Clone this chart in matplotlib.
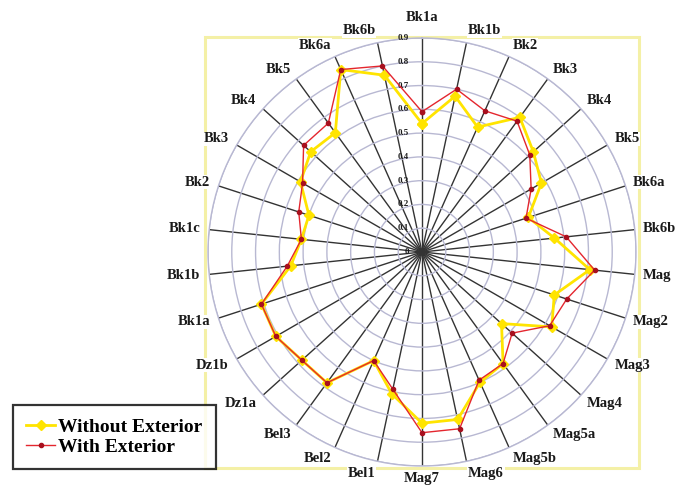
import numpy as np
import matplotlib.pyplot as plt
from matplotlib.patches import Rectangle
from matplotlib.lines import Line2D

# ----------- DATA -----------
categories = ["Bk1a", "Bk1b", "Bk2", "Bk3", "Bk4", "Bk5", "Bk6a", "Bk6b",
              "Mag", "Mag2", "Mag3", "Mag4", "Mag5a", "Mag5b", "Mag6", "Mag7",
              "Bel1", "Bel2", "Bel3", "Dz1a", "Dz1b",
              "Bk1a", "Bk1b", "Bk1c", "Bk2", "Bk3", "Bk4", "Bk5", "Bk6a", "Bk6b"]

without_exterior = [0.54, 0.67, 0.575, 0.70, 0.63, 0.58, 0.47, 0.56,
                    0.71, 0.585, 0.63, 0.45, 0.58, 0.60, 0.72, 0.72,
                    0.61, 0.50, 0.68, 0.68, 0.71,
                    0.71, 0.555, 0.51, 0.50, 0.59, 0.63, 0.62, 0.84, 0.76]

with_exterior = [0.59, 0.70, 0.65, 0.68, 0.61, 0.53, 0.46, 0.61,
                 0.73, 0.64, 0.62, 0.51, 0.58, 0.59, 0.76, 0.76,
                 0.59, 0.50, 0.68, 0.68, 0.71,
                 0.71, 0.57, 0.51, 0.545, 0.58, 0.67, 0.67, 0.84, 0.80]

ring_values = [0.1, 0.2, 0.3, 0.4, 0.5, 0.6, 0.7, 0.8, 0.9]
ring_labels = ["0", "0.1", "0.2", "0.3", "0.4", "0.5", "0.6", "0.7", "0.8", "0.9"]

R_MAX = 0.9
SERIF = "Liberation Serif"

# ----------- FIGURE -----------
W, H = 677, 488
fig = plt.figure(figsize=(W / 100, H / 100), dpi=100)
fig.patch.set_facecolor("white")

# pale yellow plot-area frame (behind the radar)
fig.patches.append(Rectangle((205 / W, 1 - 468 / H), 434 / W, 431 / H,
                             transform=fig.transFigure, fill=False,
                             edgecolor="#F4F0A6", lw=2.2, zorder=-1))

cx, cy, rad = 422, 252, 214
ax = fig.add_axes([(cx - rad) / W, (H - cy - rad) / H, 2 * rad / W, 2 * rad / H],
                  projection="polar")
ax.set_facecolor("none")
ax.set_theta_zero_location("N")
ax.set_theta_direction(-1)
ax.set_ylim(0, R_MAX)

n = len(categories)
angles = np.arange(n) * 2 * np.pi / n

ax.set_xticks(angles)
ax.set_xticklabels([])
ax.set_yticks(ring_values)
ax.set_yticklabels([])
ax.xaxis.grid(True, color="#333333", lw=1.0)
ax.yaxis.grid(True, color="#B8B8D2", lw=1.0)
ax.spines["polar"].set_color("#B8B8D2")
ax.spines["polar"].set_linewidth(1.0)
ax.tick_params(length=0)

# closed series
ang_c = np.append(angles, angles[0])
wo = np.append(without_exterior, without_exterior[0])
wi = np.append(with_exterior, with_exterior[0])

ax.plot(ang_c, wo, color="#FFE400", lw=2.0, marker="D", ms=5,
        mfc="#FFE400", mec="#FFE400", zorder=3, clip_on=False)
ax.plot(ang_c, wi, color="#E4262E", lw=1.0, marker="o", ms=3,
        mfc="#A8101E", mec="#A8101E", zorder=4, clip_on=False)

# category labels around the rim
for a, lab in zip(angles, categories):
    s, c = np.sin(a), np.cos(a)
    va = "center"
    if s > 0.05:
        ha = "left"
        dx, dy = 8 * s, 12 * c
    elif s < -0.05:
        ha = "right"
        dx, dy = 9 * s, 12 * c
    else:
        ha = "center"
        dx = 0
        if c > 0:
            va, dy = "bottom", 14
        else:
            va, dy = "top", -6
    ax.annotate(lab, xy=(a, R_MAX), xytext=(dx, dy), textcoords="offset pixels",
                ha=ha, va=va, fontsize=10.5, fontweight="bold",
                family=SERIF, color="#1A1A1A", annotation_clip=False,
                bbox=dict(boxstyle="square,pad=0.05", fc="white", ec="none"),
                zorder=6)

# radial value labels along the top spoke
for v, lab in zip([0.0] + ring_values, ring_labels):
    ax.annotate(lab, xy=(0, v), xytext=(-13, 0), textcoords="offset pixels",
                ha="right", va="center", fontsize=6.5, fontweight="bold",
                family=SERIF, color="#1A1A1A", annotation_clip=False)

# ----------- LEGEND -----------
handles = [
    Line2D([], [], color="#FFE400", lw=2.0, marker="D", ms=5,
           mfc="#FFE400", mec="#FFE400"),
    Line2D([], [], color="#E4262E", lw=1.0, marker="o", ms=3,
           mfc="#A8101E", mec="#A8101E"),
]
leg = fig.legend(handles, ["Without Exterior", "With Exterior"],
                 loc="lower left", bbox_to_anchor=(13 / W, 19 / H),
                 borderaxespad=0, fancybox=False, frameon=True,
                 prop={"family": SERIF, "weight": "bold", "size": 14},
                 handlelength=1.5, handletextpad=0.15, labelspacing=0.12,
                 borderpad=0.68)
leg.get_frame().set_edgecolor("black")
leg.get_frame().set_linewidth(1.6)
leg.set_zorder(10)

fig.savefig("out.png", dpi=100)
